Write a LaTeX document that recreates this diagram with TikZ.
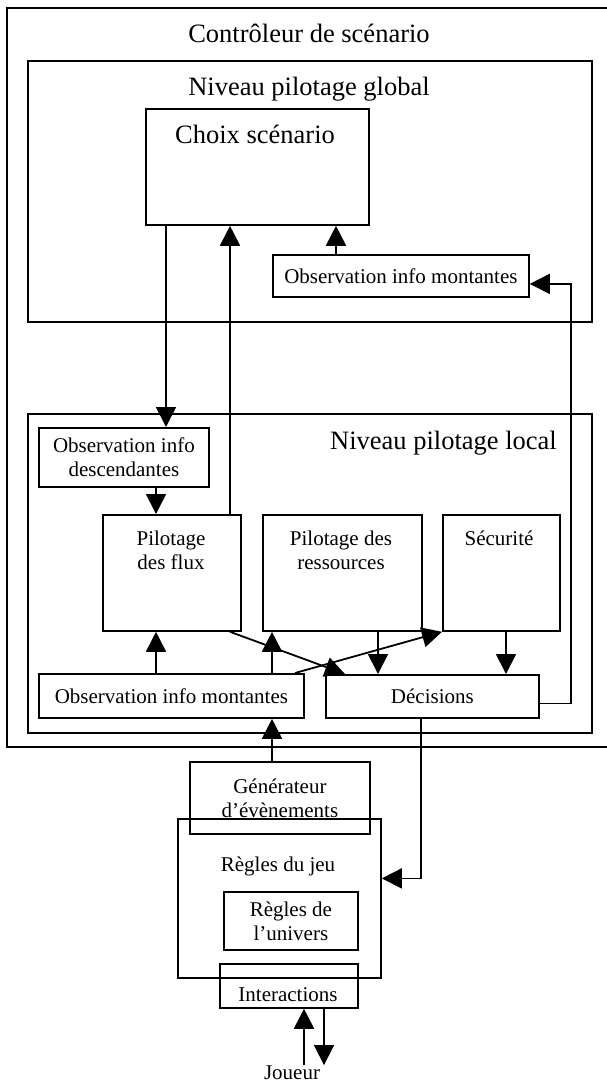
\documentclass[tikz,border=0pt]{standalone}
\usepackage{fontspec}
\setmainfont{Liberation Serif}
\usetikzlibrary{arrows.meta,calc}
\newcommand{\bigtxt}{\fontsize{26.5}{30}\selectfont}
\newcommand{\smalltxt}{\fontsize{21}{24}\selectfont}
\tikzset{
  blk/.style={draw, line width=1.8pt, inner sep=0pt, anchor=north west, align=center, font=\smalltxt},
  lbl/.style={inner sep=0pt, align=center, font=\smalltxt},
  biglbl/.style={inner sep=0pt, align=center, font=\bigtxt},
  arr/.style={-{Triangle[length=20pt,width=20pt]}, line width=1.8pt},
}

\begin{document}
\begin{tikzpicture}[x=1pt,y=-1pt]
  \useasboundingbox (0,0) rectangle (607,1084);
  \clip (0,0) rectangle (607,1084);
  \node[blk, minimum width=614pt, minimum height=739pt] (ctrl) at (6,7) {};
  \node[biglbl, anchor=base] (ctrltxt) at (309,42) {Contrôleur de scénario};
  \node[blk, minimum width=564pt, minimum height=261pt] (glob) at (27,60) {};
  \node[biglbl, anchor=base] (globtxt) at (309,95) {Niveau pilotage global};
  \node[blk, minimum width=223pt, minimum height=116pt] (choix) at (145,108) {};
  \node[biglbl, anchor=base] (choixtxt) at (255,143) {Choix scénario};
  \node[blk, minimum width=256pt, minimum height=42pt] (obsG) at (272,254) {Observation info montantes};

  \node[blk, minimum width=564pt, minimum height=319pt] (loc) at (27,413) {};
  \node[biglbl, anchor=base east] (loctxt) at (557,449) {Niveau pilotage local};
  \node[blk, minimum width=170pt, minimum height=59pt] (obsD) at (38,427) {Observation info\\descendantes};
  \node[blk, minimum width=138pt, minimum height=116pt] (flux) at (102,514) {};
  \node[lbl, anchor=north] (fluxtxt) at (171,531) {Pilotage\\des flux};
  \node[blk, minimum width=159pt, minimum height=116pt] (ress) at (262,514) {};
  \node[lbl, anchor=north] (resstxt) at (341,531) {Pilotage des\\ressources};
  \node[blk, minimum width=117pt, minimum height=116pt] (secu) at (442,514) {};
  \node[lbl, anchor=base] (secutxt) at (499,545) {Sécurité};
  \node[blk, minimum width=265pt, minimum height=44pt] (obsL) at (38,673) {Observation info montantes};
  \node[blk, minimum width=213pt, minimum height=43pt] (dec) at (325,674) {Décisions};

  \node[blk, minimum width=180pt, minimum height=72pt] (gen) at (189,761) {Générateur\\d’évènements};
  \node[blk, minimum width=203pt, minimum height=159pt] (regles) at (177,818) {};
  \node[lbl, anchor=base] (reglestxt) at (278,871) {Règles du jeu};
  \node[blk, minimum width=134pt, minimum height=58pt] (univers) at (223,891) {Règles de\\l’univers};
  \node[blk, minimum width=138pt, minimum height=44pt] (inter) at (219,963) {};
  \node[lbl, anchor=base] (intertxt) at (288,1001) {Interactions};
  \node[lbl, anchor=base] (joueur) at (292,1079) {Joueur};

  \draw[arr] ([xshift=21pt]choix.south west) -- ([xshift=21pt]choix.south west |- obsD.north);
  \draw[arr] ([xshift=128pt]flux.north west) -- ([xshift=128pt]flux.north west |- choix.south);
  \draw[arr] ([xshift=64pt]obsG.north west) -- ([xshift=64pt]obsG.north west |- choix.south);
  \draw[arr] ([xshift=118pt]obsD.south west) -- ([xshift=118pt]obsD.south west |- flux.north);
  \draw[arr] ([xshift=118pt]obsL.north west) -- ([xshift=118pt]obsL.north west |- flux.south);
  \draw[arr] ([xshift=234pt]obsL.north west) -- ([xshift=234pt]obsL.north west |- ress.south);
  \draw[arr] ([xshift=128pt]flux.south west) -- ([xshift=20pt]dec.north west);
  \draw[arr] ([xshift=257pt]obsL.north west) -- (secu.south west);
  \draw[arr] ([xshift=116pt]ress.south west) -- ([xshift=116pt]ress.south west |- dec.north);
  \draw[arr] ([xshift=64pt]secu.south west) -- ([xshift=64pt]secu.south west |- dec.north);
  \draw[arr] ([yshift=-7pt]dec.east) -- ++(31,0) |- ([yshift=-8pt]obsG.east);
  \draw[arr] ([xshift=83pt]gen.north west) -- ([xshift=83pt]gen.north west |- obsL.south);
  \draw[arr] ([xshift=96pt]dec.south west) |- ([yshift=20pt]regles.east);
  \draw[arr] ([xshift=12pt]joueur.north) -- ([xshift=12pt]joueur.north |- inter.south);
  \draw[arr] ([xshift=32pt]joueur.north |- inter.south) -- ([xshift=32pt]joueur.north);
\end{tikzpicture}
\end{document}
